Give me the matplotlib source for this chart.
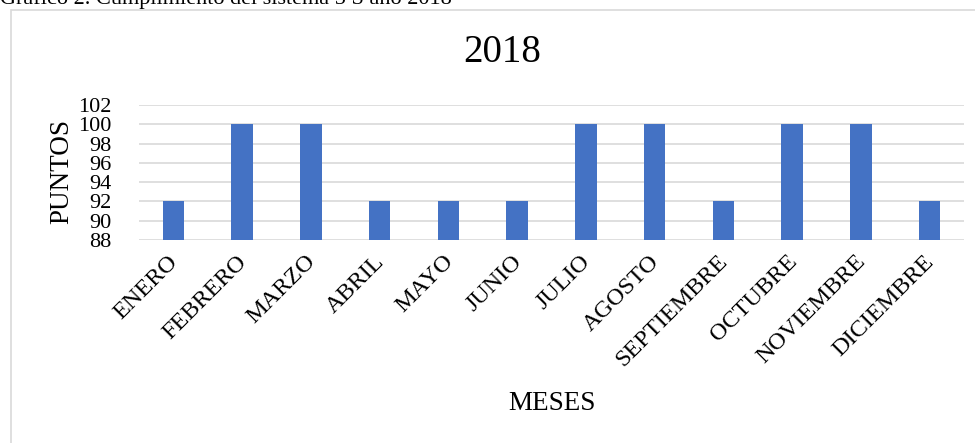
import matplotlib.pyplot as plt
import matplotlib.transforms as mtransforms
from matplotlib.patches import Rectangle

# cumplimiento mensual 2018
meses = ['ENERO', 'FEBRERO', 'MARZO', 'ABRIL', 'MAYO', 'JUNIO', 'JULIO',
         'AGOSTO', 'SEPTIEMBRE', 'OCTUBRE', 'NOVIEMBRE', 'DICIEMBRE']
puntos = [92, 100, 100, 92, 92, 92, 100, 100, 92, 100, 100, 92]
yticks = [88, 90, 92, 94, 96, 98, 100, 102]

plt.rcParams['font.family'] = ['Liberation Serif', 'DejaVu Serif']

W, H = 975, 443
fig = plt.figure(figsize=(W / 100, H / 100), dpi=100)

# marco del grafico
fig.patches.append(Rectangle((11 / W, -0.1), 1.2, 1 - 10 / H + 0.1,
                             transform=fig.transFigure, fill=False,
                             edgecolor='#d9d9d9', linewidth=1.2))

# titulo del documento (cortado arriba)
fig.text(0.0, 1 - 4 / H, 'Gráfico 2. Cumplimiento del sistema 5 S año 2018',
         fontsize=16, va='baseline', ha='left')

ax = fig.add_axes([139 / W, 1 - 240 / H, (964 - 139) / W, (240 - 105) / H])
x = range(len(meses))
ax.bar(x, [p - 88 for p in puntos], bottom=88, width=0.31, color='#4472C4', zorder=3)

ax.set_ylim(88, 102)
ax.set_xlim(-0.5, len(meses) - 0.5)
ax.set_yticks(yticks)
ax.set_yticklabels([str(t) for t in yticks], fontsize=16)
ax.yaxis.grid(True, color='#d9d9d9', linewidth=1.2)
ax.set_axisbelow(True)
for s in ax.spines.values():
    s.set_visible(False)
ax.tick_params(axis='y', length=0, pad=20)
ax.tick_params(axis='x', length=0, pad=8)
ax.set_xticks(list(x))
ax.set_xticklabels(meses, fontsize=17.5, rotation=45, ha='right', rotation_mode='anchor')
shift = mtransforms.ScaledTranslation(-6 / 100, 0, fig.dpi_scale_trans)
for lbl in ax.get_xticklabels():
    lbl.set_transform(lbl.get_transform() + shift)

fig.text(62 / W, 1 - 172 / H, 'PUNTOS', fontsize=19.5, rotation=90, ha='center', va='center')
fig.text(552 / W, 1 - 403 / H, 'MESES', fontsize=19.5, ha='center', va='center')
fig.text(502 / W, 1 - 52 / H, '2018', fontsize=28, ha='center', va='center')

fig.savefig('out.png', dpi=100)
